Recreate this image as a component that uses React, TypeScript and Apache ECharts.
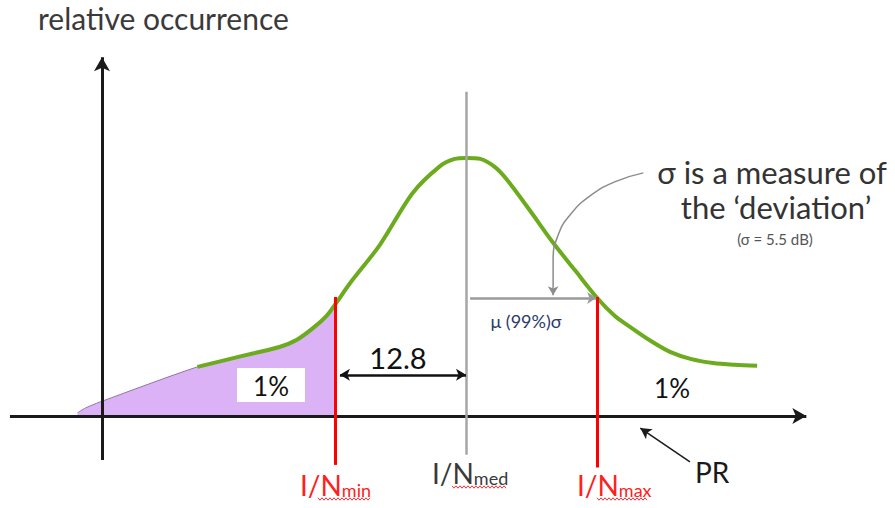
import React, { useEffect, useRef } from "react";
import * as echarts from "echarts";

// x: dB relative to I/N median, y: relative occurrence (peak = 1)
const curveX = [-26.2, -23.0, -20.6, -18.2, -16.5, -14.9, -13.6, -12.8, -11.3, -8.4, -5.2, -2.5, -1.1, 0, 1.4, 2.8, 4.0, 6.2, 8.5, 10.6, 12.8, 14.5, 16.0, 18.0, 19.9, 21.9, 24.1, 26.2, 28.4];
const curveY = [0.19, 0.221, 0.244, 0.267, 0.295, 0.341, 0.388, 0.43, 0.515, 0.663, 0.864, 0.969, 0.996, 1.0, 0.996, 0.965, 0.915, 0.798, 0.671, 0.566, 0.457, 0.388, 0.345, 0.291, 0.248, 0.221, 0.205, 0.198, 0.194];
const tailX = [-37.9, -37.1, -35.7];
const tailY = [0.012, 0.031, 0.054];

const N_MIN = -12.8;
const N_MED = 0;
const N_MAX = 12.8;
const DIST = 12.8;

// sigma annotation arrow path
const sigArrowX = [17.3, 14.5, 12.1, 10.15, 9.0, 8.5, 8.5];
const sigArrowY = [0.942, 0.907, 0.853, 0.779, 0.702, 0.605, 0.5];

const X_MIN = -45.46;
const X_MAX = 41.85;
const Y_MIN = -0.357;
const Y_MAX = 1.612;

const FONT = "Lato, 'Open Sans', sans-serif";

const pair = (xs: number[], ys: number[]) => xs.map((x, i) => [x, ys[i]]);

function seg(p1: number[], p2: number[], s1: string, s2: string) {
  return [
    { coord: p1, symbol: s1 },
    { coord: p2, symbol: s2 },
  ];
}

// spell-check style squiggle under a word (decoration only)
function squiggle(x0: number, x1: number, y: number) {
  const pts: number[][] = [];
  let up = true;
  for (let x = x0; x <= x1; x += 2) {
    pts.push([x, y + (up ? -1.2 : 1.2)]);
    up = !up;
  }
  return {
    type: "polyline",
    shape: { points: pts },
    style: { stroke: "#e8383d", lineWidth: 1, fill: null },
    silent: true,
  };
}

function subLabel(x: number, y: number, main: string, sub: string, color: string) {
  return {
    type: "text",
    x,
    y,
    style: {
      text: `{a|${main}}{b|${sub}}`,
      fontFamily: FONT,
      textVerticalAlign: "middle",
      rich: {
        a: { fontSize: 28, fontFamily: FONT, fill: color, verticalAlign: "bottom" },
        b: { fontSize: 18, fontFamily: FONT, fill: color, verticalAlign: "bottom" },
      },
    },
  };
}

export default function App() {
  const ref = useRef<HTMLDivElement>(null);
  useEffect(() => {
    document.body.style.margin = "0";
    const chart = echarts.init(ref.current!, null, { renderer: "svg" });
    const curve = pair(curveX, curveY);
    const cutIdx = curveX.indexOf(N_MIN);
    const fillData = [...pair(tailX, tailY), ...curve.slice(0, cutIdx + 1)];
    const sigPath = pair(sigArrowX, sigArrowY);

    const mlBase = {
      silent: true,
      label: { show: false },
      emphasis: { disabled: true },
      animation: false,
    };

    chart.setOption({
      animation: false,
      backgroundColor: "#ffffff",
      grid: { left: 0, right: 0, top: 0, bottom: 0 },
      xAxis: { type: "value", min: X_MIN, max: X_MAX, show: false },
      yAxis: { type: "value", min: Y_MIN, max: Y_MAX, show: false },
      series: [
        {
          type: "line",
          data: fillData,
          smooth: 0.3,
          symbol: "none",
          lineStyle: { color: "#8f7aa3", width: 1 },
          areaStyle: { color: "#dbb2f5", opacity: 1 },
          z: 1,
        },
        // axes
        {
          type: "line",
          data: [],
          markLine: {
            ...mlBase,
            symbolSize: [12, 14],
            lineStyle: { color: "#1a1a1a", width: 3, type: "solid" },
            data: [
              seg([-44.49, 0], [33.2, 0], "none", "arrow"),
              seg([-35.51, -0.171], [-35.51, 1.39], "none", "arrow"),
            ],
          },
          z: 2,
        },
        // median line
        {
          type: "line",
          data: [],
          markLine: {
            ...mlBase,
            lineStyle: { color: "#a6a6a6", width: 2.5, type: "solid" },
            data: [seg([N_MED, -0.151], [N_MED, 1.256], "none", "none")],
          },
          z: 2,
        },
        // green curve
        {
          type: "line",
          data: curve,
          smooth: 0.3,
          symbol: "none",
          lineStyle: { color: "#6cab1e", width: 4 },
          z: 3,
        },
        // red limit lines
        {
          type: "line",
          data: [],
          markLine: {
            ...mlBase,
            lineStyle: { color: "#ff0000", width: 3, type: "solid" },
            data: [
              seg([N_MIN, -0.19], [N_MIN, 0.461], "none", "none"),
              seg([N_MAX, -0.2], [N_MAX, 0.461], "none", "none"),
            ],
          },
          z: 4,
        },
        // 12.8 double arrow
        {
          type: "line",
          data: [],
          markLine: {
            ...mlBase,
            symbolSize: [9, 10],
            lineStyle: { color: "#111111", width: 2.5, type: "solid" },
            data: [seg([N_MIN + 0.5, 0.159], [N_MED, 0.159], "arrow", "arrow")],
          },
          z: 4,
        },
        // mu sigma arrow
        {
          type: "line",
          data: [],
          markLine: {
            ...mlBase,
            symbolSize: [9, 9],
            lineStyle: { color: "#9a9a9a", width: 2.5, type: "solid" },
            data: [seg([N_MED + 0.4, 0.457], [N_MAX - 0.1, 0.457], "none", "arrow")],
          },
          z: 4,
        },
        // sigma curved arrow
        {
          type: "line",
          data: sigPath,
          smooth: 0.5,
          symbol: "none",
          lineStyle: { color: "#8c8c8c", width: 1.5 },
          markLine: {
            ...mlBase,
            symbolSize: [8, 9],
            lineStyle: { color: "#8c8c8c", width: 1.5, type: "solid" },
            data: [seg([8.5, 0.5], [8.5, 0.468], "none", "arrow")],
          },
          z: 5,
        },
        // PR arrow
        {
          type: "line",
          data: [],
          markLine: {
            ...mlBase,
            symbolSize: [9, 11],
            lineStyle: { color: "#1a1a1a", width: 1.5, type: "solid" },
            data: [seg([21.85, -0.178], [17.0, -0.047], "none", "arrow")],
          },
          z: 5,
        },
      ],
      graphic: [
        {
          type: "text",
          x: 38,
          y: 18,
          style: { text: "relative occurrence", fontSize: 30, fontFamily: FONT, fill: "#3a3a3a", textVerticalAlign: "middle" },
        },
        {
          type: "text",
          x: 772,
          y: 172,
          style: { text: "σ is a measure of", fontSize: 31, fontFamily: FONT, fill: "#333333", textAlign: "center", textVerticalAlign: "middle" },
        },
        {
          type: "text",
          x: 776,
          y: 207,
          style: { text: "the \u2018deviation\u2019", fontSize: 31, fontFamily: FONT, fill: "#333333", textAlign: "center", textVerticalAlign: "middle" },
        },
        {
          type: "text",
          x: 775,
          y: 239,
          style: { text: "(σ = 5.5 dB)", fontSize: 15, fontFamily: FONT, fill: "#555555", textAlign: "center", textVerticalAlign: "middle" },
        },
        {
          type: "text",
          x: 526,
          y: 321,
          style: { text: "μ (99%)σ", fontSize: 18, fontFamily: FONT, fill: "#2b3b6b", textAlign: "center", textVerticalAlign: "middle" },
        },
        {
          type: "text",
          x: 398,
          y: 357,
          style: { text: String(DIST), fontSize: 29, fontFamily: FONT, fill: "#111111", textAlign: "center", textVerticalAlign: "middle" },
        },
        {
          type: "rect",
          shape: { x: 237, y: 368, width: 68, height: 34 },
          style: { fill: "#ffffff" },
          z: 10,
        },
        {
          type: "text",
          x: 271,
          y: 386,
          z: 11,
          style: { text: "1%", fontSize: 26, fontFamily: FONT, fill: "#111111", textAlign: "center", textVerticalAlign: "middle" },
        },
        {
          type: "text",
          x: 672,
          y: 388,
          style: { text: "1%", fontSize: 26, fontFamily: FONT, fill: "#111111", textAlign: "center", textVerticalAlign: "middle" },
        },
        subLabel(300, 485, "I/N", "min", "#ff2020"),
        subLabel(432, 473, "I/N", "med", "#3a3a3a"),
        subLabel(577, 485, "I/N", "max", "#ff2020"),
        squiggle(318, 370, 499),
        squiggle(452, 507, 487),
        squiggle(597, 648, 499),
        {
          type: "text",
          x: 695,
          y: 472,
          style: { text: "PR", fontSize: 28, fontFamily: FONT, fill: "#1a1a1a", textVerticalAlign: "middle" },
        },
      ],
    });
    return () => chart.dispose();
  }, []);
  return <div ref={ref} style={{ width: 895, height: 508 }} />;
}
